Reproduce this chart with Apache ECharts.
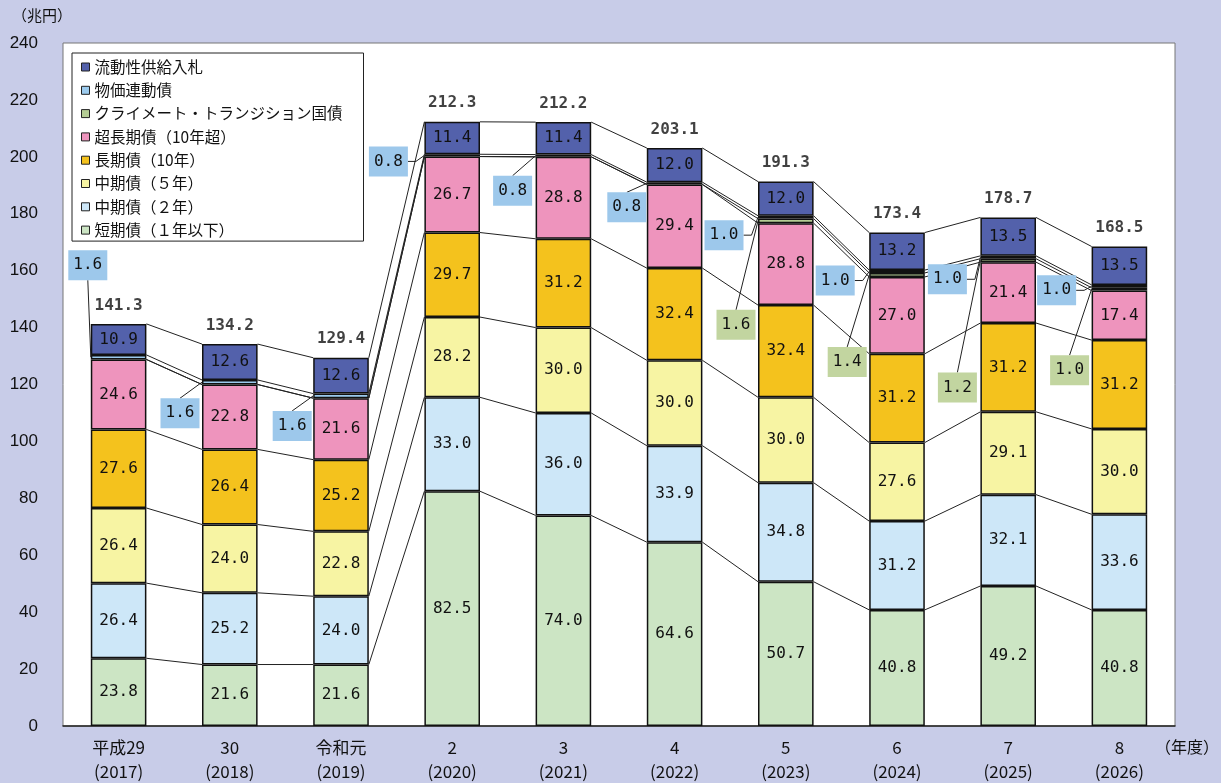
<!DOCTYPE html>
<html>
<head>
<meta charset="utf-8">
<script src="https://cdn.jsdelivr.net/npm/echarts@6.0.0/dist/echarts.min.js"></script>
<style>
html, body { margin: 0; padding: 0; background: #c8cce8; }
#chart { width: 1221px; height: 783px; }
</style>
</head>
<body>
<div id="chart"></div>
<script>
// Fiscal years (Japanese era + western year)
const categories = ['平成29\n(2017)', '30\n(2018)', '令和元\n(2019)', '2\n(2020)', '3\n(2021)',
  '4\n(2022)', '5\n(2023)', '6\n(2024)', '7\n(2025)', '8\n(2026)'];

// Issuance by bond type, trillion yen (bottom of the stack first)
const shortTerm        = [23.8, 21.6, 21.6, 82.5, 74.0, 64.6, 50.7, 40.8, 49.2, 40.8];
const medium2          = [26.4, 25.2, 24.0, 33.0, 36.0, 33.9, 34.8, 31.2, 32.1, 33.6];
const medium5          = [26.4, 24.0, 22.8, 28.2, 30.0, 30.0, 30.0, 27.6, 29.1, 30.0];
const longTerm         = [27.6, 26.4, 25.2, 29.7, 31.2, 32.4, 32.4, 31.2, 31.2, 31.2];
const superLong        = [24.6, 22.8, 21.6, 26.7, 28.8, 29.4, 28.8, 27.0, 21.4, 17.4];
const climate          = [0, 0, 0, 0, 0, 0, 1.6, 1.4, 1.2, 1.0];
const inflationIndexed = [1.6, 1.6, 1.6, 0.8, 0.8, 0.8, 1.0, 1.0, 1.0, 1.0];
const liquidity        = [10.9, 12.6, 12.6, 11.4, 11.4, 12.0, 12.0, 13.2, 13.5, 13.5];

const seriesNames = ['短期債（１年以下）', '中期債（２年）', '中期債（５年）', '長期債（10年）',
  '超長期債（10年超）', 'クライメート・トランジション国債', '物価連動債', '流動性供給入札'];

const yTicks = [0, 20, 40, 60, 80, 100, 120, 140, 160, 180, 200, 220, 240];

// ---- styling ----
const colors = ['#cce5c4', '#cde7f8', '#f7f4a3', '#f4c21d', '#ee94bd', '#b4cc94', '#9ccbee', '#5361ab'];
const calloutFill = { inflation: '#9dc8eb', climate: '#c2d5a0' };
const monoFont = '"DejaVu Sans Mono", "Liberation Mono", monospace';
const jpFont = '"Noto Sans CJK JP", "Noto Sans", sans-serif';

// Callout placement: [dx, dy] of the box centre from the anchor point
// (left edge of the bar, middle of the thin segment) and where the leader attaches.
const inflationCallouts = [[-3, -92, 'bottom'], [-22, 31, 'top'], [-21, 30, 'top'], [-36, 6, 'right'],
  [-23, 35, 'top'], [-20, 24, 'top'], [-34, 18, 'right'], [-34, 9, 'right'], [-33, 22, 'right'], [-35, 4, 'right']];
const climateCallouts = [null, null, null, null, null, null,
  [-22, 104, 'top'], [-22, 87, 'top'], [-23, 127, 'top'], [-22, 81, 'top']];

const stackData = [shortTerm, medium2, medium5, longTerm, superLong, climate, inflationIndexed, liquidity];

// cumulative tops of each layer
const cumulative = [];
stackData.forEach((arr, k) => {
  cumulative.push(arr.map((v, i) => +(((k ? cumulative[k - 1][i] : 0) + v).toFixed(1))));
});
const totals = cumulative[cumulative.length - 1];

const BAR_RATIO = 0.5;

const barSeries = stackData.map((arr, k) => ({
  name: seriesNames[k],
  type: 'bar',
  stack: 'total',
  barWidth: (BAR_RATIO * 100) + '%',
  // years without issuance draw no segment
  data: arr.map(v => (v ? v : '-')),
  z: 3,
  itemStyle: { color: colors[k], borderColor: '#111', borderWidth: 1.5 },
  label: {
    show: k !== 5 && k !== 6,
    position: 'inside',
    color: '#111',
    fontFamily: monoFont,
    fontSize: 16,
    formatter: p => (p.value >= 3 ? p.value.toFixed(1) : '')
  }
}));

// connector lines between the tops of matching layers of neighbouring bars
const connectorSeries = {
  type: 'custom',
  silent: true,
  z: 2,
  data: categories.slice(0, -1).map((c, i) => [i, 0]),
  encode: { x: 0, y: 1 },
  renderItem: (params, api) => {
    const i = params.dataIndex;
    const half = api.size([1, 0])[0] * BAR_RATIO / 2;
    const children = cumulative.map(level => {
      const a = api.coord([i, level[i]]);
      const b = api.coord([i + 1, level[i + 1]]);
      return {
        type: 'line',
        shape: { x1: a[0] + half, y1: a[1], x2: b[0] - half, y2: b[1] },
        style: { stroke: '#222', lineWidth: 1 }
      };
    });
    return { type: 'group', children };
  }
};

function calloutSeries(values, below, layout, fill) {
  return {
    type: 'custom',
    silent: true,
    z: 5,
    data: values.map((v, i) => [i, below[i] + v / 2, v]),
    encode: { x: 0, y: 1 },
    renderItem: (params, api) => {
      const i = params.dataIndex;
      const spec = layout[i];
      const v = values[i];
      if (!spec || !v) return null;
      const half = api.size([1, 0])[0] * BAR_RATIO / 2;
      const c = api.coord([i, below[i] + v / 2]);
      const ax = c[0] - half, ay = c[1];
      const cx = ax + spec[0], cy = ay + spec[1];
      const w = 39, h = 30;
      let pts;
      if (spec[2] === 'right') pts = [[cx + w / 2, cy], [cx + w / 2 + 8, cy], [ax, ay]];
      else if (spec[2] === 'top') pts = [[cx, cy - h / 2], [ax, ay]];
      else pts = [[cx, cy + h / 2], [ax, ay]];
      return {
        type: 'group',
        children: [
          { type: 'polyline', shape: { points: pts }, style: { stroke: '#222', lineWidth: 1, fill: null } },
          { type: 'rect', shape: { x: cx - w / 2, y: cy - h / 2, width: w, height: h }, style: { fill } },
          { type: 'text', style: { text: v.toFixed(1), x: cx, y: cy, align: 'center', verticalAlign: 'middle',
            font: '16px ' + monoFont, fill: '#111' } }
        ]
      };
    }
  };
}

const totalSeries = {
  type: 'scatter',
  silent: true,
  z: 6,
  symbolSize: 1,
  itemStyle: { color: 'rgba(0,0,0,0)' },
  data: totals,
  label: {
    show: true,
    position: 'top',
    distance: 10,
    color: '#111',
    fontFamily: monoFont,
    fontSize: 16,
    fontWeight: 'bold',
    formatter: p => p.value.toFixed(1)
  }
};

const chart = echarts.init(document.getElementById('chart'), null, { renderer: 'canvas' });
chart.setOption({
  backgroundColor: '#c8cce8',
  animation: false,
  grid: {
    left: 63, right: 46, top: 43, bottom: 57,
    outerBoundsMode: 'none',
    show: true, backgroundColor: '#ffffff', borderColor: '#777', borderWidth: 1
  },
  legend: {
    orient: 'vertical',
    left: 72, top: 53,
    data: seriesNames.slice().reverse().map(n => ({ name: n, icon: 'rect' })),
    backgroundColor: '#ffffff',
    borderColor: '#222', borderWidth: 1,
    padding: [6, 21, 3, 9],
    itemWidth: 8, itemHeight: 8,
    itemGap: 7.3,
    selectedMode: false,
    itemStyle: { borderColor: '#222', borderWidth: 1 },
    textStyle: { fontFamily: jpFont, fontSize: 15.5, lineHeight: 16, color: '#111' }
  },
  xAxis: {
    type: 'category',
    data: categories,
    axisLine: { show: true, lineStyle: { color: '#222', width: 1.5 } },
    axisTick: { show: false },
    axisLabel: { fontFamily: jpFont, fontSize: 17, lineHeight: 24, color: '#111', margin: 10 }
  },
  yAxis: {
    type: 'value',
    min: yTicks[0], max: yTicks[yTicks.length - 1], interval: yTicks[1] - yTicks[0],
    axisLine: { show: false },
    axisTick: { show: false },
    splitLine: { show: false },
    axisLabel: { fontFamily: '"Liberation Sans", Arial, sans-serif', fontSize: 17, color: '#111', margin: 25 }
  },
  graphic: [
    { type: 'text', left: 12, top: 8, style: { text: '（兆円）', font: '15px ' + jpFont, fill: '#111' } },
    { type: 'text', left: 1155, top: 739, style: { text: '（年度）', font: '16px ' + jpFont, fill: '#111' } }
  ],
  series: [
    connectorSeries,
    ...barSeries,
    calloutSeries(inflationIndexed, cumulative[5], inflationCallouts, calloutFill.inflation),
    calloutSeries(climate, cumulative[4], climateCallouts, calloutFill.climate),
    totalSeries
  ]
});
</script>
</body>
</html>
